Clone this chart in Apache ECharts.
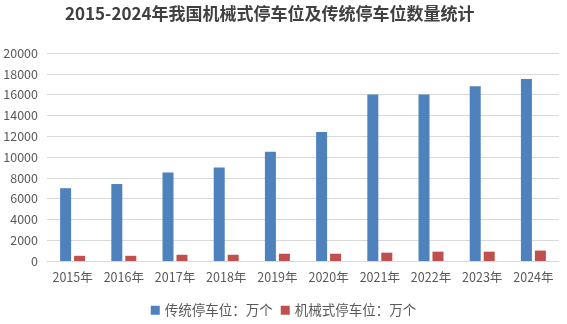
<!DOCTYPE html>
<html>
<head>
<meta charset="utf-8">
<script src="https://cdn.jsdelivr.net/npm/echarts@6/dist/echarts.min.js"></script>
<style>
html,body{margin:0;padding:0;background:#fff;}
#chart{width:567px;height:324px;}
</style>
</head>
<body>
<div id="chart"></div>
<script>
const categories = ['2015年','2016年','2017年','2018年','2019年','2020年','2021年','2022年','2023年','2024年'];
const traditional = [7000, 7400, 8500, 9000, 10500, 12400, 16000, 16000, 16800, 17500];
const mechanical = [500, 500, 600, 600, 700, 700, 800, 900, 900, 1000];
const seriesNames = ['传统停车位：万个', '机械式停车位：万个'];

const font = '"Noto Sans CJK SC", "Microsoft YaHei", sans-serif';
const chart = echarts.init(document.getElementById('chart'));
chart.setOption({
  animation: false,
  title: {
    text: '2015-2024年我国机械式停车位及传统停车位数量统计',
    left: 60,
    top: 0,
    textStyle: { fontFamily: font, fontSize: 17, fontWeight: 'bold', color: '#404040' }
  },
  legend: {
    bottom: 2,
    left: 'center',
    itemWidth: 9,
    itemHeight: 9,
    itemGap: 8,
    icon: 'rect',
    textStyle: { fontFamily: font, fontSize: 13.5, color: '#595959' },
    data: seriesNames
  },
  grid: { left: 47, right: 8, top: 53, bottom: 63 },
  xAxis: {
    type: 'category',
    data: categories,
    axisLine: { lineStyle: { color: '#d9d9d9' } },
    axisTick: { show: false },
    axisLabel: { interval: 0, fontFamily: font, fontSize: 12.5, color: '#595959', margin: 10 }
  },
  yAxis: {
    type: 'value',
    min: 0,
    max: 20000,
    interval: 2000,
    axisLine: { show: false },
    axisTick: { show: false },
    axisLabel: { fontFamily: font, fontSize: 12.5, color: '#595959', margin: 9, formatter: v => String(v) },
    splitLine: { lineStyle: { color: '#d9d9d9' } }
  },
  series: [
    {
      name: seriesNames[0],
      type: 'bar',
      data: traditional,
      barWidth: 11,
      barGap: '27%',
      itemStyle: { color: '#4f81bd' }
    },
    {
      name: seriesNames[1],
      type: 'bar',
      data: mechanical,
      barWidth: 11,
      itemStyle: { color: '#c0504d' }
    }
  ]
});
</script>
</body>
</html>
